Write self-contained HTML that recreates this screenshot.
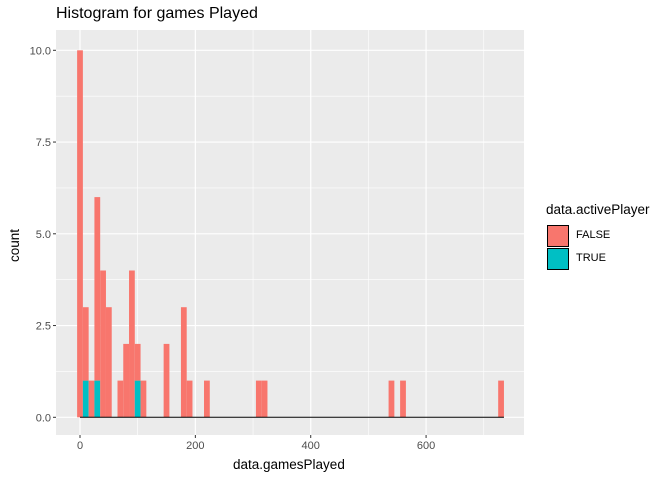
<!DOCTYPE html>
<html><head><meta charset="utf-8"><style>body{margin:0;background:#fff;font-family:"Liberation Sans",Arial,sans-serif}svg{font-family:"Liberation Sans",Arial,sans-serif}</style></head>
<body>
<svg id="c" width="672" height="480"></svg>
<script>
const binCenters=[0,10,20,30,40,50,70,80,90,100,110,150,180,190,220,310,320,540,560,730];
const falseCounts=[10,2,1,5,4,3,1,2,4,1,1,2,3,1,1,1,1,1,1,1];
const trueCounts=[0,1,0,1,0,0,0,0,0,1,0,0,0,0,0,0,0,0,0,0];
const xTicks=[0,200,400,600];
const yTicks=[0,2.5,5,7.5,10];
const yTickLabels=["0.0","2.5","5.0","7.5","10.0"];
const binWidth=10;
const svg=document.getElementById('c');const NS='http://www.w3.org/2000/svg';
function mk(t,a,p){const e=document.createElementNS(NS,t);for(const k in a)e.setAttribute(k,a[k]);(p||svg).appendChild(e);return e;}
const L=56,R=524,T=30,B=435;
const X=v=>80+v*0.5768, Y=v=>417.3-v*36.7;
const bg=mk('rect',{x:L,y:T,width:R-L,height:B-T,fill:'#ebebeb'});


for(let i=0;i<yTicks.length-1;i++){const v=(yTicks[i]+yTicks[i+1])/2;mk('line',{x1:L,x2:R,y1:Y(v),y2:Y(v),stroke:'#fff','stroke-width':0.6});}
for(let i=0;i<xTicks.length;i++){const v=xTicks[i]+100;mk('line',{x1:X(v),x2:X(v),y1:T,y2:B,stroke:'#fff','stroke-width':0.6});}
yTicks.forEach((v,i)=>{mk('line',{x1:L,x2:R,y1:Y(v),y2:Y(v),stroke:'#fff','stroke-width':1.2});
 mk('line',{x1:L-3,x2:L,y1:Y(v),y2:Y(v),stroke:'#333'});
 const t=mk('text',{x:L-5,y:Y(v)+4,'text-anchor':'end','font-size':11,fill:'#4d4d4d'});t.textContent=yTickLabels[i];
 
 });
xTicks.forEach(v=>{mk('line',{x1:X(v),x2:X(v),y1:T,y2:B,stroke:'#fff','stroke-width':1.2});
 mk('line',{x1:X(v),x2:X(v),y1:B,y2:B+3,stroke:'#333'});
 const t=mk('text',{x:X(v),y:B+14,'text-anchor':'middle','font-size':11,fill:'#4d4d4d'});t.textContent=v;
 
 });
binCenters.forEach((c,i)=>{const x0=X(c-binWidth/2),w=X(c+binWidth/2)-x0;
 if(trueCounts[i]>0){const r=mk('rect',{x:x0,y:Y(trueCounts[i]),width:w,height:Y(0)-Y(trueCounts[i]),fill:'#00bfc4'});
  
  }
 const tot=trueCounts[i]+falseCounts[i];
 const r=mk('rect',{x:x0,y:Y(tot),width:w,height:Y(trueCounts[i])-Y(tot),fill:'#f8766d'});
 
 });
mk('line',{x1:X(binCenters[0]),x2:X(binCenters[binCenters.length-1]+binWidth/2),y1:Y(0),y2:Y(0),stroke:'#000','stroke-width':1});
</script>
<div style="position:absolute;left:0;top:0;width:672px;height:480px;pointer-events:none">
<div style="position:absolute;left:56px;top:5px;font-size:16px;color:#000">Histogram for games Played</div>
<div style="position:absolute;left:233px;top:457px;font-size:13.5px">data.gamesPlayed</div>
<div style="position:absolute;left:-2px;top:238px;font-size:13.5px;transform:rotate(-90deg)">count</div>
<div style="position:absolute;left:546px;top:202px;font-size:13.5px">data.activePlayer</div>
<div style="position:absolute;left:547px;top:225px;width:20px;height:20px;background:#f8766d;border:1px solid #000"></div>
<div style="position:absolute;left:576px;top:229px;font-size:11px">FALSE</div>
<div style="position:absolute;left:547px;top:248px;width:20px;height:20px;background:#00bfc4;border:1px solid #000"></div>
<div style="position:absolute;left:576px;top:252px;font-size:11px">TRUE</div>
</div>
</body></html>
